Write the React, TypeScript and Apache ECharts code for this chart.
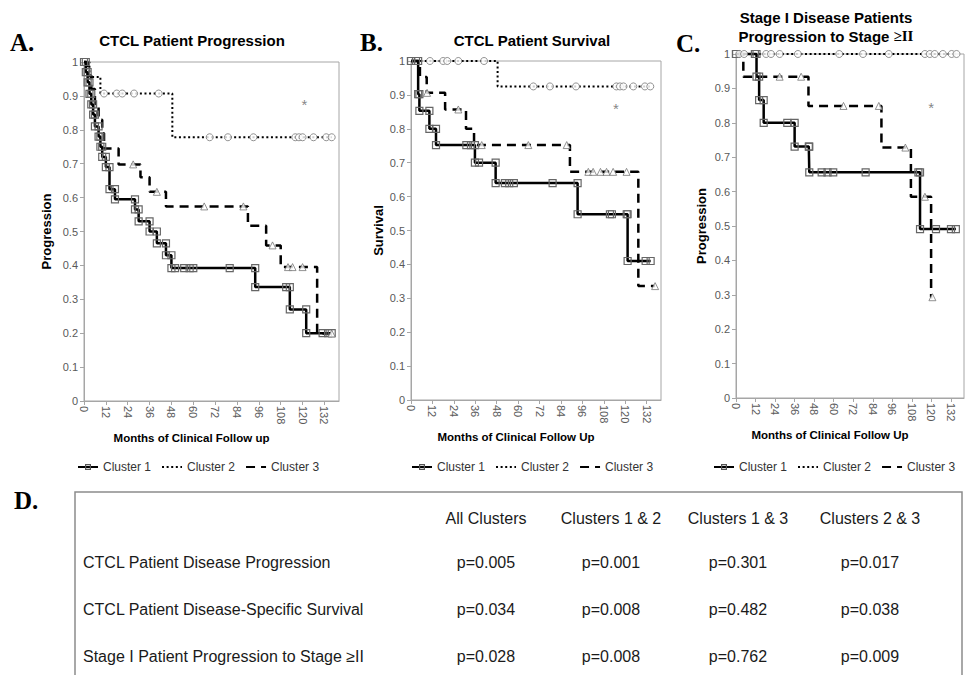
import React, { useEffect, useRef } from "react";
import * as echarts from "echarts";

// ---------- axis settings ----------
const MONTH_MAX = 140;
const MONTH_STEP = 12;
const legendNames = ["Cluster 1", "Cluster 2", "Cluster 3"];

// ---------- Panel A: CTCL Patient Progression ----------
const A_c1_times = [0, 1, 2, 3, 4, 5, 6, 8, 9, 10, 12, 14, 17, 28, 30, 36, 40, 45, 48, 94, 113, 122];
const A_c1_values = [1, 0.97, 0.94, 0.906, 0.875, 0.845, 0.81, 0.78, 0.75, 0.72, 0.69, 0.625, 0.595, 0.565, 0.53, 0.5, 0.465, 0.43, 0.392, 0.336, 0.27, 0.2];
const A_c1_censored = [50, 55, 58, 60, 80, 111, 131, 134, 136];
const A_c2_times = [0, 3, 9, 48.5];
const A_c2_values = [1, 0.956, 0.907, 0.778];
const A_c2_censored = [11, 18, 21, 27.5, 41, 69, 79, 93, 116, 118, 120, 126, 133, 136];
const A_c3_times = [0, 2, 4, 6, 8, 10, 11, 19, 31, 36, 45, 90, 100, 108, 128];
const A_c3_values = [1, 0.96, 0.92, 0.87, 0.83, 0.79, 0.745, 0.698, 0.66, 0.617, 0.574, 0.517, 0.459, 0.395, 0.199];
const A_c3_censored = [27, 40, 66, 87.5, 103.5, 112, 114.5, 120, 136];
const A_star = [121, 0.875];

// ---------- Panel B: CTCL Patient Survival ----------
const B_c1_times = [0, 4, 4.7, 10.3, 14, 35.8, 47.4, 93.3, 121.3];
const B_c1_values = [1, 0.902, 0.853, 0.8, 0.752, 0.7, 0.64, 0.548, 0.41];
const B_c1_censored = [0, 2.8, 31, 33.6, 38.1, 52.6, 55, 57.6, 79.3, 111.4, 112.5, 120.8, 131.4, 134.2];
const B_c2_times = [0, 48.5];
const B_c2_values = [1, 0.925];
const B_c2_censored = [10.6, 18, 20.3, 26.5, 40.9, 68.5, 77.8, 92.4, 115, 117, 119, 124.5, 131, 134];
const B_c3_times = [0, 5, 8.8, 19.1, 30.8, 35.3, 89, 127.3];
const B_c3_values = [1, 0.953, 0.906, 0.857, 0.8, 0.752, 0.673, 0.336];
const B_c3_censored = [9, 26.5, 39.6, 65.7, 87.2, 99.3, 102, 106.1, 109.5, 113.2, 120.7, 136.7];
const B_star = [114.8, 0.86];

// ---------- Panel C: Stage I progression to stage >= II ----------
const C_c1_times = [0, 12.6, 14.2, 17, 36, 45, 113];
const C_c1_values = [1, 0.934, 0.866, 0.8, 0.731, 0.656, 0.491];
const C_c1_censored = [0, 11.6, 31.5, 44.7, 52.6, 56.2, 59.7, 79.6, 112, 122.8, 132, 135];
const C_c2_times = [0];
const C_c2_values = [1];
const C_c2_censored = [2, 5, 18.5, 21.5, 26.8, 38, 63.4, 78, 93.8, 116, 119, 122, 127, 132.4, 135.4];
const C_c3_times = [0, 4.5, 44.5, 89.3, 107.4, 119.8];
const C_c3_values = [1, 0.934, 0.849, 0.728, 0.585, 0.293];
const C_c3_censored = [26.8, 40, 66, 87.7, 104, 116, 120.6];
const C_star = [119.8, 0.845];

// ---------- Table D ----------
const tableColumns = ["All Clusters", "Clusters 1 & 2", "Clusters 1 & 3", "Clusters 2 & 3"];
const tableRows = [
  "CTCL Patient Disease Progression",
  "CTCL Patient Disease-Specific Survival",
  "Stage I Patient Progression to Stage \u2265II",
];
const tablePValues = [
  ["p=0.005", "p=0.001", "p=0.301", "p=0.017"],
  ["p=0.034", "p=0.008", "p=0.482", "p=0.038"],
  ["p=0.028", "p=0.008", "p=0.762", "p=0.009"],
];

const FONT = '"Liberation Sans", Arial, Helvetica, sans-serif';
const SERIF = '"Liberation Serif", "Times New Roman", serif';
const AXIS_GREY = "#a6a6a6";
const LABEL_GREY = "#595959";

type P = [number, number];

function valueAt(times: number[], values: number[], t: number): number {
  let v = values[0];
  for (let i = 0; i < times.length; i++) if (times[i] <= t) v = values[i];
  return v;
}

function stepPoints(times: number[], values: number[], censored: number[]): P[] {
  const pts: P[] = [[times[0], values[0]]];
  let ci = 0;
  for (let i = 1; i < times.length; i++) {
    while (ci < censored.length && censored[ci] < times[i]) {
      pts.push([censored[ci], values[i - 1]]);
      ci++;
    }
    pts.push([times[i], values[i - 1]]);
    pts.push([times[i], values[i]]);
  }
  while (ci < censored.length) {
    pts.push([censored[ci], values[values.length - 1]]);
    ci++;
  }
  return pts;
}

function censorPoints(times: number[], values: number[], censored: number[]): P[] {
  return censored.map((t) => [t, valueAt(times, values, t)] as P);
}

const panels = [
  {
    grid: { left: 84, top: 62, width: 255, height: 339 },
    c1: [A_c1_times, A_c1_values, A_c1_censored],
    c2: [A_c2_times, A_c2_values, A_c2_censored],
    c3: [A_c3_times, A_c3_values, A_c3_censored],
    star: A_star,
    yName: "Progression",
    yGap: 31,
    xName: "Months of Clinical Follow up",
    legendLeft: 72,
  },
  {
    grid: { left: 411, top: 61, width: 250, height: 339 },
    c1: [B_c1_times, B_c1_values, B_c1_censored],
    c2: [B_c2_times, B_c2_values, B_c2_censored],
    c3: [B_c3_times, B_c3_values, B_c3_censored],
    star: B_star,
    yName: "Survival",
    yGap: 26,
    xName: "Months of Clinical Follow Up",
    legendLeft: 406,
  },
  {
    grid: { left: 736, top: 54, width: 228, height: 344 },
    c1: [C_c1_times, C_c1_values, C_c1_censored],
    c2: [C_c2_times, C_c2_values, C_c2_censored],
    c3: [C_c3_times, C_c3_values, C_c3_censored],
    star: C_star,
    yName: "Progression",
    yGap: 28,
    xName: "Months of Clinical Follow Up",
    legendLeft: 708,
  },
];

function buildOption() {
  const grids: any[] = [];
  const xAxes: any[] = [];
  const yAxes: any[] = [];
  const series: any[] = [];
  const legends: any[] = [];

  panels.forEach((p, i) => {
    grids.push({
      ...p.grid,
      show: true,
      borderColor: AXIS_GREY,
      borderWidth: 1,
      backgroundColor: "rgba(0,0,0,0)",
      containLabel: false,
    });
    xAxes.push({
      gridIndex: i,
      type: "value",
      min: 0,
      max: MONTH_MAX,
      interval: MONTH_STEP,
      axisLine: { show: true, lineStyle: { color: AXIS_GREY, width: 1 } },
      axisTick: { show: true, length: 4, lineStyle: { color: AXIS_GREY } },
      axisLabel: {
        rotate: -90,
        fontSize: 11,
        color: LABEL_GREY,
        fontFamily: FONT,
        margin: 5,
        showMaxLabel: false,
      },
      splitLine: { show: false },
      name: p.xName,
      nameLocation: "middle",
      nameGap: 30,
      nameTextStyle: {
        fontFamily: FONT,
        fontWeight: "bold",
        fontSize: 11.5,
        color: "#000",
        padding: [0, 40, 0, 0],
      },
    });
    yAxes.push({
      gridIndex: i,
      type: "value",
      min: 0,
      max: 1,
      interval: 0.1,
      axisLine: { show: true, lineStyle: { color: AXIS_GREY, width: 1 } },
      axisTick: { show: true, length: 4, lineStyle: { color: AXIS_GREY } },
      axisLabel: { fontSize: 11, color: LABEL_GREY, fontFamily: FONT, margin: 6 },
      splitLine: { show: false },
      name: p.yName,
      nameLocation: "middle",
      nameRotate: 90,
      nameGap: p.yGap,
      nameTextStyle: { fontFamily: FONT, fontWeight: "bold", fontSize: 13, color: "#000" },
    });

    const [t1, v1, k1] = p.c1 as number[][];
    const [t2, v2, k2] = p.c2 as number[][];
    const [t3, v3, k3] = p.c3 as number[][];

    series.push({
      type: "line",
      name: "Cluster 3",
      xAxisIndex: i,
      yAxisIndex: i,
      data: stepPoints(t3, v3, k3),
      symbol: "none",
      clip: false,
      lineStyle: { color: "#000", width: 2.5, type: [9, 6] },
      itemStyle: { color: "#000" },
      z: 2,
    });
    series.push({
      type: "line",
      name: "Cluster 2",
      xAxisIndex: i,
      yAxisIndex: i,
      data: stepPoints(t2, v2, k2),
      symbol: "none",
      clip: false,
      lineStyle: { color: "#000", width: 2, type: [2, 2.6] },
      itemStyle: { color: "#000" },
      z: 2,
    });
    series.push({
      type: "line",
      name: "Cluster 1",
      xAxisIndex: i,
      yAxisIndex: i,
      data: stepPoints(t1, v1, k1),
      symbol: "rect",
      symbolSize: 7,
      showSymbol: true,
      showAllSymbol: true,
      clip: false,
      lineStyle: { color: "#000", width: 2.5 },
      itemStyle: { color: "rgba(255,255,255,0)", borderColor: "#666", borderWidth: 1.2 },
      z: 4,
    });
    series.push({
      type: "scatter",
      name: "Cluster 2 censored " + i,
      xAxisIndex: i,
      yAxisIndex: i,
      data: censorPoints(t2, v2, k2),
      symbol: "circle",
      symbolSize: 7,
      clip: false,
      itemStyle: { color: "#fff", borderColor: "#777", borderWidth: 1 },
      z: 5,
    });
    series.push({
      type: "scatter",
      name: "Cluster 3 censored " + i,
      xAxisIndex: i,
      yAxisIndex: i,
      data: censorPoints(t3, v3, k3),
      symbol: "triangle",
      symbolSize: 7,
      clip: false,
      itemStyle: { color: "#fff", borderColor: "#777", borderWidth: 1 },
      z: 5,
    });
    series.push({
      type: "scatter",
      name: "significance " + i,
      xAxisIndex: i,
      yAxisIndex: i,
      data: [p.star],
      symbol: "circle",
      symbolSize: 1,
      itemStyle: { color: "rgba(0,0,0,0)" },
      label: {
        show: true,
        position: "inside",
        formatter: "*",
        fontSize: 15,
        color: "#666",
        fontFamily: FONT,
      },
      z: 5,
    });

    legends.push({
      data: [
        { name: legendNames[0], itemStyle: { color: "rgba(255,255,255,0)", borderColor: "#555", borderWidth: 1.2 } },
        { name: legendNames[1], itemStyle: { opacity: 0 } },
        { name: legendNames[2], itemStyle: { opacity: 0 } },
      ],
      left: p.legendLeft,
      top: 456,
      orient: "horizontal",
      itemWidth: 20,
      itemHeight: 6,
      itemGap: 10,
      selectedMode: false,
      textStyle: { fontFamily: FONT, fontSize: 12, color: "#333" },
    });
  });

  const graphics: any[] = [];
  const txt = (text: string, x: number, y: number, font: string, align = "center", fill = "#000") => ({
    type: "text",
    x,
    y,
    silent: true,
    style: { text, font, fill, align, verticalAlign: "middle" },
  });

  // panel letters and titles
  graphics.push(txt("A.", 10, 42, `bold 25px ${SERIF}`, "left"));
  graphics.push(txt("B.", 360, 42, `bold 25px ${SERIF}`, "left"));
  graphics.push(txt("C.", 676, 43, `bold 25px ${SERIF}`, "left"));
  graphics.push(txt("D.", 14, 500, `bold 25px ${SERIF}`, "left"));
  graphics.push(txt("CTCL Patient Progression", 192, 40, `bold 15px ${FONT}`));
  graphics.push(txt("CTCL Patient Survival", 532, 40, `bold 15px ${FONT}`));
  graphics.push(txt("Stage I Disease Patients", 826, 17, `bold 15px ${FONT}`));
  graphics.push({
    type: "text",
    x: 826,
    y: 36,
    silent: true,
    style: {
      text: "{a|Progression to Stage }{b|\u2265II}",
      align: "center",
      verticalAlign: "middle",
      rich: {
        a: { font: `bold 15px ${FONT}`, fill: "#000" },
        b: { font: `bold 15px ${SERIF}`, fill: "#000" },
      },
    },
  });

  // table D
  graphics.push({
    type: "rect",
    silent: true,
    shape: { x: 75, y: 492, width: 887, height: 260 },
    style: { fill: "none", stroke: "#8c8c8c", lineWidth: 1.5 },
  });
  const colX = [486, 611, 738, 870];
  const headerY = 518;
  const rowY = [562, 609, 656];
  tableColumns.forEach((c, j) => graphics.push(txt(c, colX[j], headerY, `16px ${FONT}`, "center", "#1a1a1a")));
  tableRows.forEach((r, i) => {
    graphics.push(txt(r, 83, rowY[i], `16px ${FONT}`, "left", "#1a1a1a"));
    tablePValues[i].forEach((pv, j) => graphics.push(txt(pv, colX[j], rowY[i], `16px ${FONT}`, "center", "#1a1a1a")));
  });

  return {
    animation: false,
    backgroundColor: "#fff",
    grid: grids,
    xAxis: xAxes,
    yAxis: yAxes,
    legend: legends,
    series,
    graphic: graphics,
  };
}

export default function App() {
  const ref = useRef<HTMLDivElement>(null);
  useEffect(() => {
    if (!ref.current) return;
    const chart = echarts.init(ref.current, undefined, { renderer: "svg" });
    chart.setOption(buildOption() as any);
    return () => chart.dispose();
  }, []);
  return (
    <div
      ref={ref}
      style={{ position: "absolute", left: 0, top: 0, width: 966, height: 675, background: "#fff" }}
    />
  );
}
